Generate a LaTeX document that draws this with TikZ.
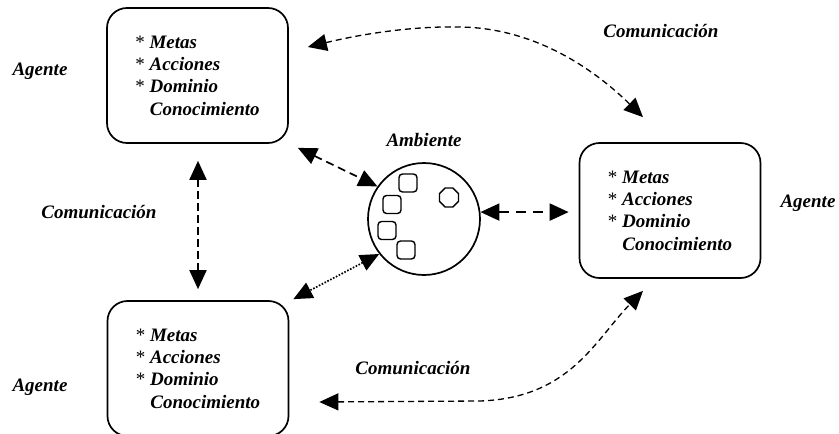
\documentclass[tikz,border=0pt]{standalone}
\usepackage{fontspec}
\setmainfont{Liberation Serif}
\usetikzlibrary{arrows.meta,calc,shapes.geometric}

\newcommand{\agentlist}{%
  {\mdseries\upshape *} Metas\\
  {\mdseries\upshape *} Acciones\\
  {\mdseries\upshape *} Dominio\\
  \hspace*{14.5pt}Conocimiento}

\tikzset{
  lbl/.style={font=\fontsize{19}{22.5}\selectfont\bfseries\itshape, inner sep=0pt},
  agentbox/.style={draw, line width=1.7pt, rounded corners=20pt,
    minimum width=181pt, minimum height=135pt, inner sep=0pt,
    align=left, font=\fontsize{19}{22.4}\selectfont\bfseries\itshape},
  item/.style={draw, line width=1.4pt, rounded corners=3.5pt,
    minimum size=18pt, inner sep=0pt},
  bigtip/.style={{Triangle[length=19pt,width=17pt]}-{Triangle[length=19pt,width=17pt]}},
  link/.style={bigtip, line width=1.7pt, dash pattern=on 8pt off 5pt},
  wide/.style={bigtip, line width=2.2pt, dash pattern=on 10pt off 7pt},
  faint/.style={bigtip, line width=1.7pt, dash pattern=on 1.6pt off 1.6pt},
  talk/.style={bigtip, line width=1.3pt, dash pattern=on 6pt off 4pt},
}

\begin{document}
\begin{tikzpicture}[x=1pt,y=-1pt]
  \useasboundingbox (0,0) rectangle (839,434);

  % the three agents
  \node[agentbox] (tl) at (197.5,75.5) {\agentlist};
  \node[agentbox] (bl) at (198,368.5) {\agentlist};
  \node[agentbox] (rb) at (670,210.5) {\agentlist};

  \node[lbl] (a1) at (40,71) {Agente};
  \node[lbl] (a2) at (40,387) {Agente};
  \node[lbl] (a3) at (808,203) {Agente};

  % the environment with its objects
  \node[draw, circle, line width=1.7pt, minimum size=112pt, inner sep=0pt] (amb) at (424,219) {};
  \node[lbl] (ambl) at (424,140) {Ambiente};
  \node[item] (o1) at (408,183) {};
  \node[item] (o2) at (392,204.5) {};
  \node[item] (o3) at (387,230.5) {};
  \node[item] (o4) at (406,250) {};
  \node[draw, line width=1.4pt, regular polygon, regular polygon sides=8,
        minimum size=20.5pt, inner sep=0pt] (o5) at (449,197.5) {};

  % communication labels
  \node[lbl] (c1) at (661,31) {Comunicación};
  \node[lbl] (c2) at (99,212) {Comunicación};
  \node[lbl] (c3) at (413,368) {Comunicación};

  % agent <-> environment
  \draw[link] ($(tl.south east)+(9,4)$) -- (amb.145);
  \draw[faint] (amb.218) -- ($(bl.north east)+(4,-1)$);
  \draw[wide] (amb.7) -- ($(amb.7 -| rb.west)+(-10,0)$);

  % agent <-> agent
  \draw[link, line width=1.9pt, dash pattern=on 8pt off 4pt]
    ($(tl.south)+(0.5,17)$) -- ($(bl.north)+(0,-11)$);
  \draw[talk] ($(tl.east)+(19,-28.5)$)
    .. controls (370,32) and (420,26) .. (460,27)
    .. controls (540,28) and (600,75) .. ($(rb.north)+(-27,-25)$);
  \draw[talk] ($(bl.east)+(30,33.5)$) -- (480,401)
    .. controls (570,398) and (595,340) .. ($(rb.south)+(-27,12)$);
\end{tikzpicture}
\end{document}
